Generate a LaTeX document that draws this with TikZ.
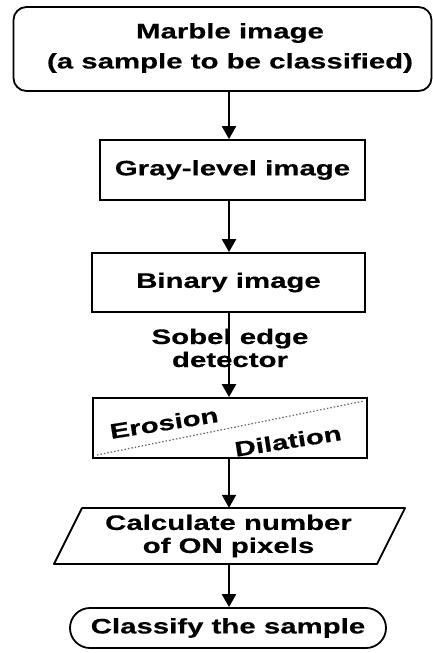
\documentclass[tikz,border=0pt]{standalone}
\usepackage{fontspec}
\newfontfamily\lblfont{Liberation Sans Bold}[FakeStretch=1.4,FakeBold=0.4]
\usetikzlibrary{arrows.meta,calc}
\begin{document}
\begin{tikzpicture}[x=1pt,y=-1pt,
  txt/.style={inner sep=0pt,align=center,font=\lblfont\fontsize{21}{23}\selectfont},
  box/.style={txt,draw,line width=1.8pt},
  arr/.style={line width=2.2pt,-{Triangle[width=14pt,length=13pt]}}]
\useasboundingbox (0,0) rectangle (433,653);
\coordinate (ax) at (229,0);
% top terminal
\node[box,rounded corners=13pt,minimum width=418pt,minimum height=84pt] (top) at (222.5,49) {};
\node[txt,font=\lblfont\fontsize{21}{30}\selectfont] (toptext) at (230,48) {Marble image\\(a sample to be classified)};
% boxes
\node[box,minimum width=265pt,minimum height=60pt] (g) at (232.5,170) {Gray-level image};
\node[box,minimum width=273pt,minimum height=59pt] (b) at (228.5,282.5) {Binary image};
\node[txt] (sob) at (230,348) {Sobel edge\\detector};
\node[box,minimum width=274pt,minimum height=60pt] (er) at (230,428) {};
\draw[gray!80!black,line width=1.2pt,dash pattern=on 1.5pt off 2pt] (97,455) -- (364,401);
\node[txt,rotate=9] (ero) at (164,423) {Erosion};
\node[txt,rotate=9] (dil) at (288,441) {Dilation};
% parallelogram
\draw[line width=1.8pt,line join=round] (82,508) -- (405,508) -- (377,564) -- (54,564) -- cycle;
\node[txt,minimum width=300pt,minimum height=56pt] (calc) at (228.5,536) {Calculate number\\of ON pixels};
% end terminal
\node[box,rounded corners=20pt,minimum width=316pt,minimum height=40pt] (cls) at (228,628) {Classify the sample};
% arrows
\draw[arr] (top.south -| ax) -- (g.north -| ax);
\draw[arr] (g.south -| ax) -- (b.north -| ax);
\draw[arr] (b.south -| ax) -- (er.north -| ax);
\draw[arr] (er.south -| ax) -- (calc.north -| ax);
\draw[arr] (calc.south -| ax) -- (cls.north -| ax);
\end{tikzpicture}
\end{document}
